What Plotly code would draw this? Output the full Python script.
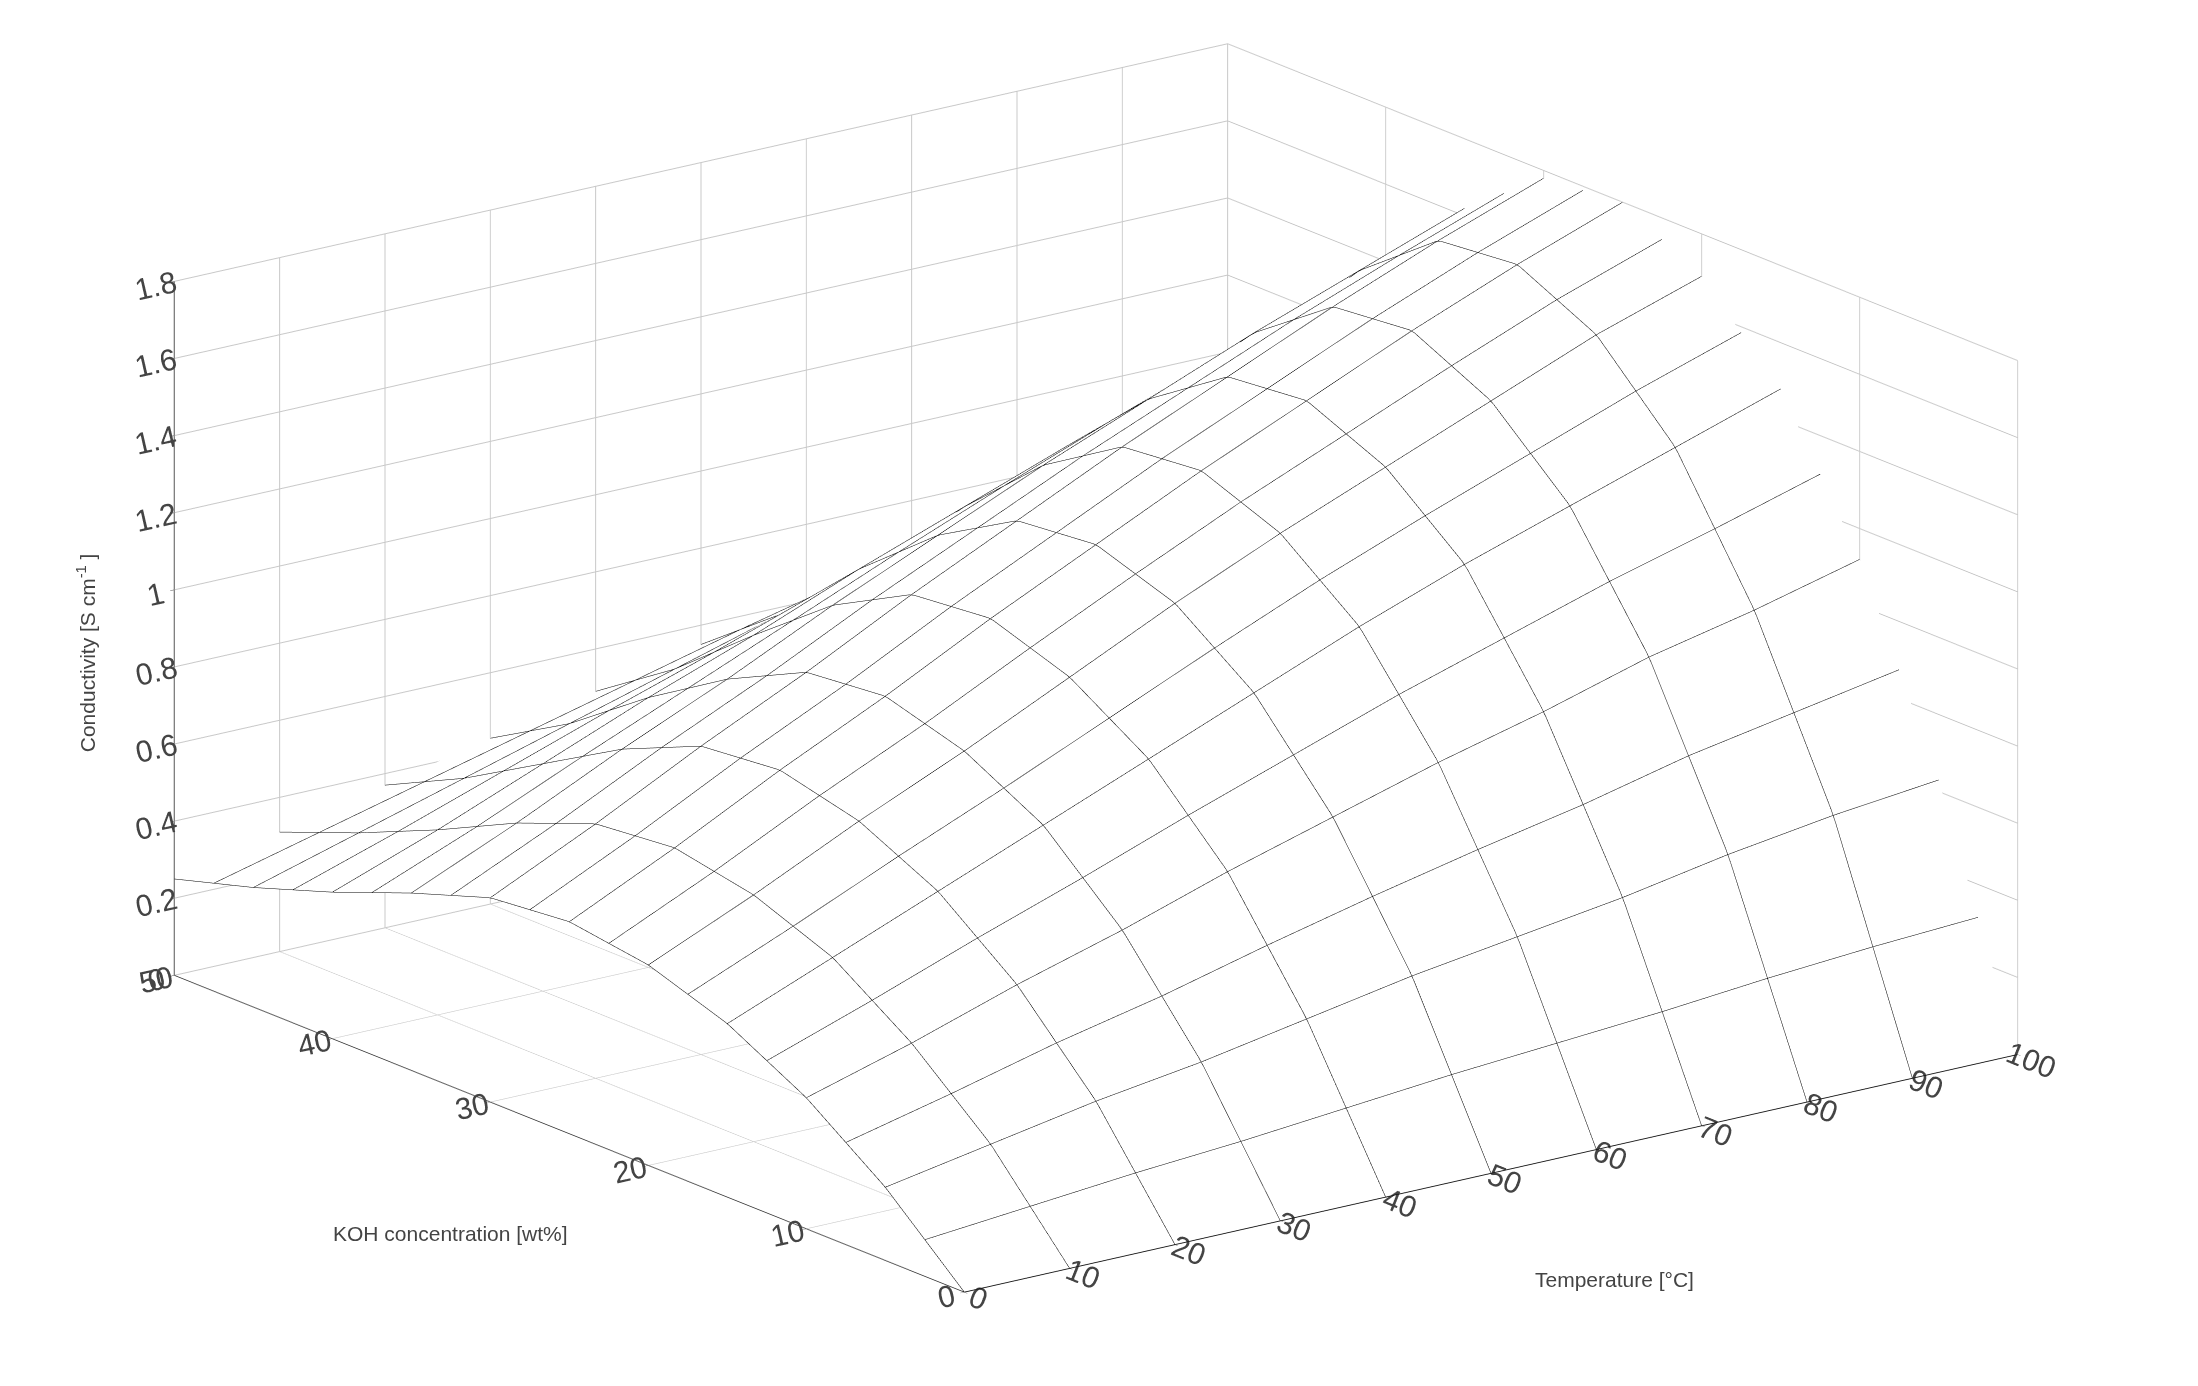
import plotly.graph_objects as go

temperature = [0, 10, 20, 30, 40, 50, 60, 70, 80, 90, 100]
concentration = [0, 5, 10, 15, 20, 25, 30, 35, 40, 45, 50]

# conductivity [S/cm], rows = concentration, cols = temperature
conductivity = [
    [0, 0, 0, 0, 0, 0, 0, 0, 0, 0, 0],
    [0.19, 0.24, 0.29, 0.33, 0.38, 0.43, 0.47, 0.51, 0.56, 0.60, 0.63],
    [0.34, 0.42, 0.51, 0.59, 0.68, 0.76, 0.84, 0.91, 0.99, 1.05, 1.12],
    [0.45, 0.56, 0.67, 0.78, 0.89, 1.00, 1.11, 1.21, 1.30, 1.39, 1.48],
    [0.52, 0.64, 0.77, 0.89, 1.02, 1.15, 1.27, 1.38, 1.49, 1.60, 1.69],
    [0.55, 0.68, 0.82, 0.95, 1.09, 1.22, 1.35, 1.47, 1.59, 1.70, 1.80],
    [0.53, 0.66, 0.80, 0.93, 1.07, 1.20, 1.33, 1.45, 1.57, 1.68, 1.78],
    [0.46, 0.58, 0.71, 0.83, 0.96, 1.08, 1.20, 1.31, 1.42, 1.52, 1.62],
    [0.38, 0.48, 0.59, 0.70, 0.80, 0.91, 1.01, 1.11, 1.20, 1.29, 1.37],
    [0.31, 0.39, 0.47, 0.55, 0.63, 0.71, 0.79, 0.87, 0.94, 1.01, 1.07],
    [0.25, 0.31, 0.37, 0.43, 0.49, 0.55, 0.60, 0.66, 0.71, 0.76, 0.80],
]

fig = go.Figure(go.Surface(
    x=temperature, y=concentration, z=conductivity,
    colorscale=[[0, "white"], [1, "white"]], showscale=False,
    lighting=dict(ambient=1, diffuse=0, specular=0, fresnel=0),
    contours=dict(
        x=dict(show=True, start=0, end=100, size=10, color="black", width=4),
        y=dict(show=True, start=0, end=50, size=2.5, color="black", width=3),
    ),
    hoverinfo="skip",
))

axis_style = dict(showbackground=False, gridcolor="#c8c8c8", gridwidth=2,
                  showline=True, linecolor="#555555", linewidth=2,
                  ticks="outside", tickcolor="#555555",
                  tickfont=dict(family="Liberation Sans", size=19, color="#444444"),
                  zeroline=False, title=dict(text=""))

title_font = dict(family="Liberation Sans", size=21, color="#444444")

fig.update_layout(
    width=2198, height=1386,
    paper_bgcolor="white",
    margin=dict(l=0, r=0, t=0, b=0),
    font=dict(family="Liberation Sans", color="#444444"),
    scene=dict(
        domain=dict(x=[0.0, 0.99], y=[0, 1]),
        xaxis=dict(range=[0, 100], dtick=10, **axis_style),
        yaxis=dict(range=[0, 50], dtick=10, **axis_style),
        zaxis=dict(range=[0, 1.8], dtick=0.2, **axis_style),
        aspectmode="manual",
        aspectratio=dict(x=1.9, y=1.9, z=1.05),
        camera=dict(eye=dict(x=-0.78, y=-1.04, z=0.36),
                    center=dict(x=0, y=0, z=-0.05),
                    projection=dict(type="orthographic")),
    ),
    annotations=[
        dict(text="KOH concentration [wt%]", x=0.147, y=0.106, xref="paper", yref="paper",
             showarrow=False, font=title_font),
        dict(text="Temperature [°C]", x=0.768, y=0.073, xref="paper", yref="paper",
             showarrow=False, font=title_font),
        dict(text="Conductivity [S cm<sup>-1</sup> ]", x=0.029, y=0.535, xref="paper", yref="paper",
             showarrow=False, textangle=-90, font=title_font),
    ],
)

fig.write_html("out.html")
